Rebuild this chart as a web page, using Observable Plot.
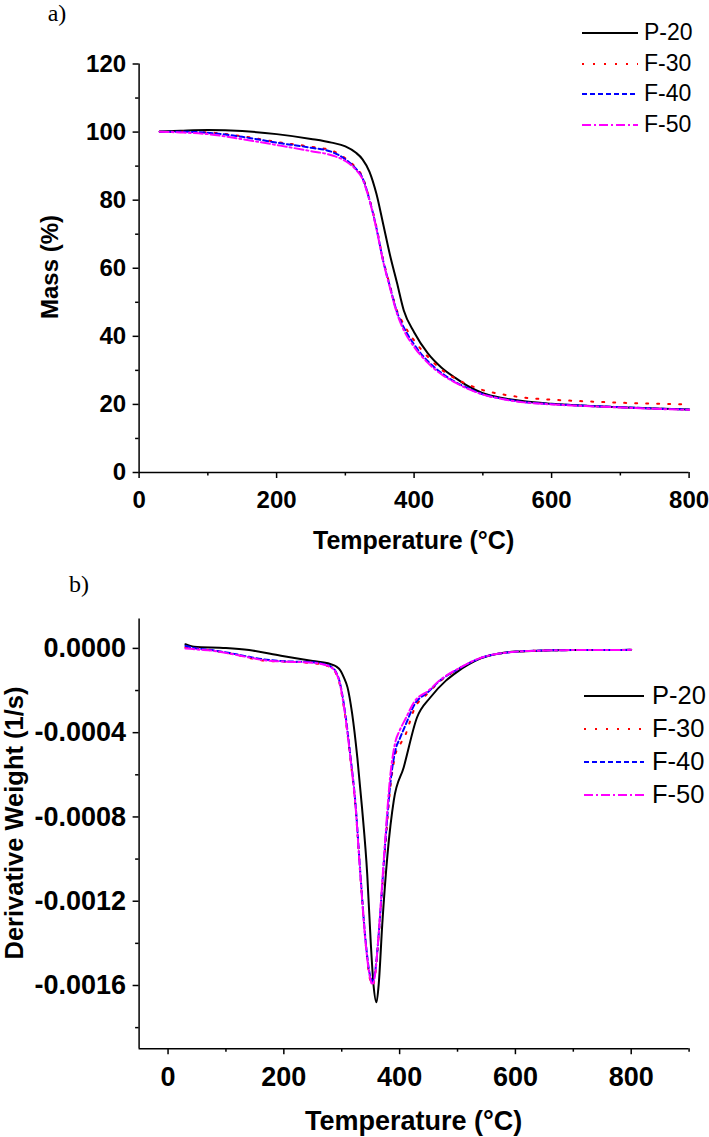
<!DOCTYPE html>
<html><head><meta charset="utf-8">
<script src="https://cdn.jsdelivr.net/npm/d3@7"></script>
<script src="https://cdn.jsdelivr.net/npm/@observablehq/plot@0.6"></script>
<style>
body{margin:0;background:#fff;}
#root{position:relative;width:709px;height:1137px;overflow:hidden;font-family:"Liberation Sans",Arial,sans-serif;color:#000;}
.panel{position:absolute;left:0;}
.tag{position:absolute;font-family:"Liberation Serif","Times New Roman",serif;line-height:1;transform:translate(-50%,-50%);}
.axt{position:absolute;font-weight:bold;white-space:nowrap;line-height:1;}
.leg{position:absolute;display:flex;align-items:center;white-space:nowrap;line-height:1;}
.leg svg{display:block;}
</style></head><body><div id="root"></div>
<script>
// ---------- series ----------
const seriesNames = ["P-20", "F-30", "F-40", "F-50"];
const seriesColors = ["#000000", "#ff0000", "#0000ff", "#ff00ff"];
const seriesDashes = [null, "2,9", "5,3", "9,3,2,3"];

// ---------- panel a: TGA (Mass %) ----------
const tgaTemp = [30, 60, 100, 150, 200, 250, 280, 300, 315, 325, 335, 345, 355, 365, 375, 385, 400, 420, 440, 460, 480, 500, 530, 560, 600, 650, 700, 750, 800];
const tgaP20 = [100.2, 100.4, 100.6, 100.3, 99.4, 98.0, 96.9, 95.8, 94.0, 92.0, 88.4, 82.0, 73.0, 63.8, 55.8, 47.6, 41.2, 35.0, 30.8, 27.8, 25.2, 23.3, 21.8, 20.9, 20.2, 19.6, 19.2, 18.8, 18.5];
const tgaF30 = [100.1, 100.1, 99.9, 98.8, 97.1, 95.7, 94.6, 92.3, 89.6, 86.8, 80.5, 72.3, 62.5, 54.8, 47.6, 43.5, 38.8, 34.0, 30.2, 27.6, 25.7, 24.2, 22.9, 22.0, 21.4, 20.9, 20.5, 20.2, 20.0];
const tgaF40 = [100.1, 100.1, 99.8, 98.6, 96.9, 95.4, 94.2, 92.0, 89.3, 86.5, 80.2, 72.0, 62.2, 54.5, 47.2, 42.6, 37.6, 32.7, 29.2, 26.6, 24.6, 23.0, 21.6, 20.7, 20.1, 19.6, 19.2, 18.8, 18.5];
const tgaF50 = [100.1, 99.9, 99.4, 97.9, 96.2, 94.4, 93.2, 91.5, 89.0, 86.2, 80.0, 71.8, 62.0, 54.2, 46.8, 41.8, 36.9, 32.2, 28.8, 26.4, 24.4, 22.9, 21.5, 20.6, 20.0, 19.5, 19.1, 18.7, 18.4];
const tgaXTicks = [0, 200, 400, 600, 800];
const tgaXMinor = [100, 300, 500, 700];
const tgaYTicks = [0, 20, 40, 60, 80, 100, 120];
const tgaYMinor = [10, 30, 50, 70, 90, 110];

// ---------- panel b: DTG (Derivative Weight 1/s) ----------
const dtgTempP20 = [30, 45, 100, 140, 195, 250, 280, 290, 298, 304, 310, 318, 327, 335, 344, 350, 355, 360, 364, 370, 379, 390, 407, 430, 453, 480, 500, 520, 540, 570, 600, 650, 700, 800];
const dtgP20 = [0.000020, 0.000008, 0.000002, -0.000008, -0.000035, -0.000060, -0.000074, -0.000085, -0.000106, -0.000140, -0.000185, -0.000310, -0.000520, -0.000755, -0.001070, -0.001390, -0.001600, -0.001680, -0.001590, -0.001310, -0.000980, -0.000720, -0.000565, -0.000328, -0.000233, -0.000153, -0.000110, -0.000075, -0.000047, -0.000025, -0.000015, -0.000010, -0.000008, -0.000007];
const dtgTempF = [30, 50, 80, 110, 140, 165, 195, 250, 270, 282, 290, 297, 304, 315, 324, 332, 341, 348, 353, 358, 362, 367, 375, 384, 393, 400, 410, 425, 450, 470, 500, 540, 600, 650, 700, 800];
const dtgF30 = [0.000005, 0.000000, -0.000012, -0.000025, -0.000045, -0.000058, -0.000062, -0.000070, -0.000080, -0.000092, -0.000118, -0.000175, -0.000285, -0.000525, -0.000760, -0.001070, -0.001390, -0.001560, -0.001600, -0.001545, -0.001430, -0.001250, -0.000950, -0.000660, -0.000500, -0.000460, -0.000410, -0.000290, -0.000210, -0.000155, -0.000100, -0.000046, -0.000016, -0.000010, -0.000008, -0.000007];
const dtgF40 = [0.000012, 0.000000, -0.000010, -0.000024, -0.000040, -0.000052, -0.000060, -0.000066, -0.000075, -0.000088, -0.000112, -0.000165, -0.000270, -0.000510, -0.000745, -0.001060, -0.001380, -0.001540, -0.001580, -0.001530, -0.001420, -0.001240, -0.000930, -0.000640, -0.000480, -0.000430, -0.000365, -0.000270, -0.000205, -0.000152, -0.000100, -0.000046, -0.000016, -0.000010, -0.000008, -0.000007];
const dtgF50 = [0.000000, -0.000005, -0.000012, -0.000027, -0.000043, -0.000056, -0.000062, -0.000068, -0.000078, -0.000090, -0.000115, -0.000170, -0.000280, -0.000520, -0.000755, -0.001070, -0.001390, -0.001550, -0.001595, -0.001540, -0.001420, -0.001230, -0.000910, -0.000600, -0.000440, -0.000390, -0.000335, -0.000255, -0.000200, -0.000150, -0.000098, -0.000045, -0.000016, -0.000010, -0.000008, -0.000007];
const dtgXTicks = [0, 200, 400, 600, 800];
const dtgXMinor = [100, 300, 500, 700, 900];
const dtgYTicks = [0, -0.0004, -0.0008, -0.0012, -0.0016];
const dtgYMinor = [-0.0002, -0.0006, -0.0010, -0.0014, -0.0018];

// ---------- build tables ----------
function rows(temps, vals, name) { return temps.map((t, i) => ({T: t, v: vals[i], s: name})); }
const tgaData = [rows(tgaTemp, tgaP20, "P-20"), rows(tgaTemp, tgaF30, "F-30"), rows(tgaTemp, tgaF40, "F-40"), rows(tgaTemp, tgaF50, "F-50")];
const dtgData = [rows(dtgTempP20, dtgP20, "P-20"), rows(dtgTempF, dtgF30, "F-30"), rows(dtgTempF, dtgF40, "F-40"), rows(dtgTempF, dtgF50, "F-50")];

const FONT = '"Liberation Sans", Arial, sans-serif';
function lineMarks(data) {
  return data.map((d, i) => Plot.line(d, {x: "T", y: "v", stroke: seriesColors[i], strokeWidth: 2,
    strokeDasharray: seriesDashes[i] || undefined, curve: "monotone-x"}));
}

const root = document.getElementById("root");

// Panel a
const plotA = Plot.plot({
  width: 709, height: 560,
  marginLeft: 138.6, marginRight: 20.4, marginTop: 63.5, marginBottom: 88,
  x: {domain: [0, 800]},
  y: {domain: [0, 120]},
  style: {fontFamily: FONT, color: "#000", background: "transparent", overflow: "visible"},
  marks: [
    Plot.axisX(tgaXTicks, {tickSize: 6, tickPadding: 12, fontSize: 24, fontWeight: "bold", tickFormat: d => String(d), label: null, strokeWidth: 1.5}),
    Plot.axisX(tgaXMinor, {tickSize: 3.5, tickFormat: () => "", label: null, strokeWidth: 1.5}),
    Plot.axisY(tgaYTicks, {tickSize: 6, tickPadding: 7, fontSize: 24, fontWeight: "bold", tickFormat: d => String(d), label: null, strokeWidth: 1.5}),
    Plot.axisY(tgaYMinor, {tickSize: 3.5, tickFormat: () => "", label: null, strokeWidth: 1.5}),
    ...lineMarks(tgaData),
    Plot.ruleX([0], {y1: 0, y2: 120, strokeWidth: 1.5}),
    Plot.ruleY([0], {strokeWidth: 1.5})
  ]
});
plotA.classList.add("panel");
plotA.style.top = "0px";
root.appendChild(plotA);

// Panel b
const plotB = Plot.plot({
  width: 709, height: 577,
  marginLeft: 138.6, marginRight: 20.4, marginTop: 58.4, marginBottom: 88.8,
  x: {domain: [-50, 900]},
  y: {domain: [-0.0019, 0.00014]},
  style: {fontFamily: FONT, color: "#000", background: "transparent", overflow: "visible"},
  marks: [
    Plot.axisX(dtgXTicks, {tickSize: 6, tickPadding: 12, fontSize: 27, fontWeight: "bold", tickFormat: d => String(d), label: null, strokeWidth: 1.5}),
    Plot.axisX(dtgXMinor, {tickSize: 3.5, tickFormat: () => "", label: null, strokeWidth: 1.5}),
    Plot.axisY(dtgYTicks, {tickSize: 6, tickPadding: 7, fontSize: 27, fontWeight: "bold", tickFormat: d => d.toFixed(4), label: null, strokeWidth: 1.5}),
    Plot.axisY(dtgYMinor, {tickSize: 3.5, tickFormat: () => "", label: null, strokeWidth: 1.5}),
    ...lineMarks(dtgData),
    Plot.ruleX([-50], {strokeWidth: 1.5}),
    Plot.ruleY([-0.0019], {strokeWidth: 1.5})
  ]
});
plotB.classList.add("panel");
plotB.style.top = "560px";
root.appendChild(plotB);

// ---------- texts ----------
function addText(cls, txt, css) {
  const el = document.createElement("div");
  el.className = cls; el.textContent = txt;
  Object.assign(el.style, css);
  root.appendChild(el);
  return el;
}
addText("tag", "a)", {left: "57px", top: "13px", fontSize: "24px"});
addText("tag", "b)", {left: "79px", top: "584px", fontSize: "24px"});
addText("axt", "Temperature (°C)", {left: "413.6px", top: "540px", fontSize: "25px", transform: "translate(-50%,-50%)"});
addText("axt", "Mass (%)", {left: "50px", top: "267px", fontSize: "24px", transform: "translate(-50%,-50%) rotate(-90deg)"});
addText("axt", "Temperature (°C)", {left: "413.6px", top: "1121px", fontSize: "27px", transform: "translate(-50%,-50%)"});
addText("axt", "Derivative Weight (1/s)", {left: "15px", top: "823px", fontSize: "25.5px", transform: "translate(-50%,-50%) rotate(-90deg)"});

// ---------- legends ----------
function legend(x0, ys, lineW, gap, fs) {
  seriesNames.forEach((name, i) => {
    const row = document.createElement("div");
    row.className = "leg";
    Object.assign(row.style, {left: x0 + "px", top: (ys[i] - fs * 0.6) + "px", height: (fs * 1.2) + "px", fontSize: fs + "px"});
    const ns = "http://www.w3.org/2000/svg";
    const svg = document.createElementNS(ns, "svg");
    svg.setAttribute("width", lineW); svg.setAttribute("height", 6);
    const ln = document.createElementNS(ns, "line");
    ln.setAttribute("x1", 0); ln.setAttribute("x2", lineW); ln.setAttribute("y1", 3); ln.setAttribute("y2", 3);
    ln.setAttribute("stroke", seriesColors[i]); ln.setAttribute("stroke-width", 2);
    if (seriesDashes[i]) ln.setAttribute("stroke-dasharray", seriesDashes[i]);
    svg.appendChild(ln);
    const sp = document.createElement("span");
    sp.textContent = name; sp.style.marginLeft = gap + "px";
    row.appendChild(svg); row.appendChild(sp);
    root.appendChild(row);
  });
}
legend(582, [33, 64, 94, 125], 56, 6, 23);
legend(584, [696, 729, 762, 795], 60, 8, 25.5);
</script>
</body></html>
